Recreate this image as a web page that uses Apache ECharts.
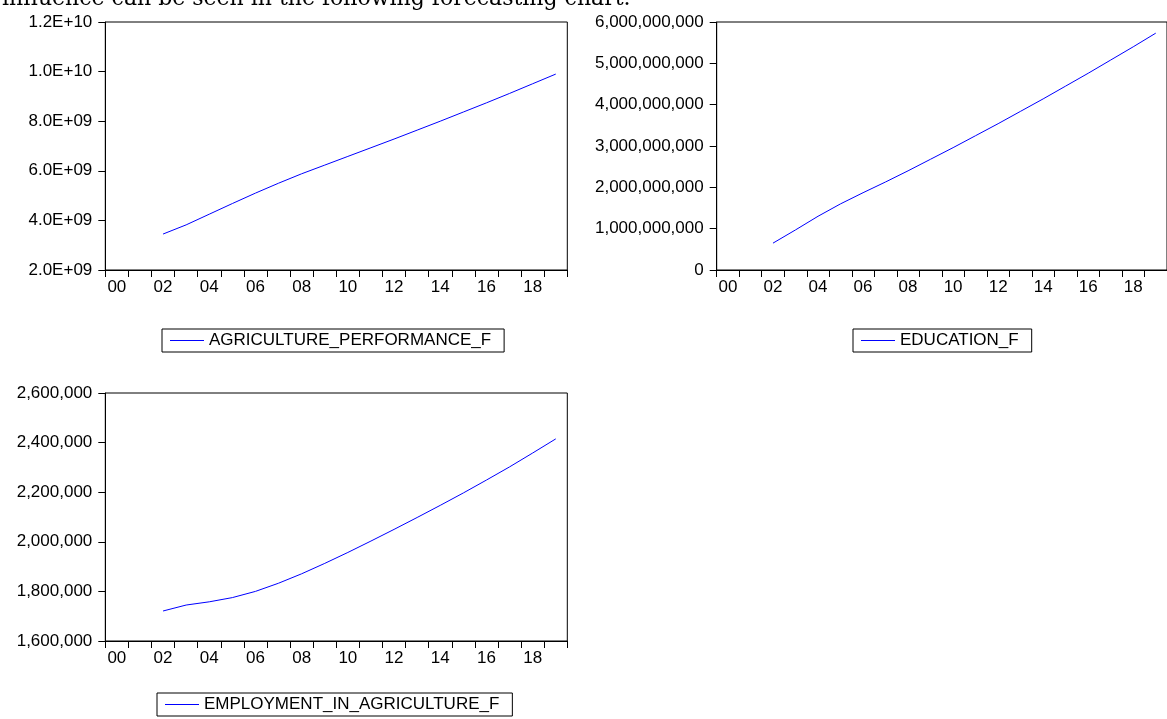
<!DOCTYPE html>
<html>
<head>
<meta charset="utf-8">
<script src="https://cdn.jsdelivr.net/npm/echarts@6/dist/echarts.min.js"></script>
<style>
html,body{margin:0;padding:0;background:#fff;}
#c{width:1167px;height:719px;}
</style>
</head>
<body>
<div id="c"></div>
<script>
// ---- data ----
const years = ['2000','2001','2002','2003','2004','2005','2006','2007','2008','2009','2010','2011','2012','2013','2014','2015','2016','2017','2018','2019'];
const dataStartYear = '2002';
const agriculturePerformance = [3.45e9,3.82e9,4.25e9,4.68e9,5.10e9,5.50e9,5.88e9,6.23e9,6.58e9,6.93e9,7.28e9,7.64e9,8.00e9,8.37e9,8.74e9,9.12e9,9.51e9,9.90e9];
const education = [0.65e9,0.97e9,1.30e9,1.60e9,1.87e9,2.13e9,2.40e9,2.68e9,2.96e9,3.25e9,3.54e9,3.84e9,4.14e9,4.45e9,4.76e9,5.08e9,5.40e9,5.73e9];
const employment = [1721000,1745000,1758000,1775000,1800000,1833000,1871000,1913000,1957000,2003000,2050000,2098000,2147000,2197000,2249000,2302000,2358000,2415000];
const seriesNames = ['AGRICULTURE_PERFORMANCE_F','EDUCATION_F','EMPLOYMENT_IN_AGRICULTURE_F'];
const introText = 'influence can be seen in the following forecasting chart.';

function pad(arr){
  const off = years.indexOf(dataStartYear);
  return years.map((y,i)=> (i>=off && i-off<arr.length) ? arr[i-off] : null);
}
function sciFmt(v){
  let s = Number(v).toExponential(1).toUpperCase();
  return s.replace(/E([+-])(\d)$/, 'E$10$2');
}
function commaFmt(v){ return Number(v).toLocaleString('en-US'); }

const FONT = 'Liberation Sans';
const FS = 17;
const LFS = 17;
const grids = [
  {left:105.3, top:22, width:462, height:248},
  {left:716.7, top:22, width:463, height:248},
  {left:105.3, top:393, width:462, height:248}
];
const yRanges = [
  {min:2e9, max:1.2e10, interval:2e9, fmt:sciFmt},
  {min:0, max:6e9, interval:1e9, fmt:commaFmt},
  {min:1.6e6, max:2.6e6, interval:2e5, fmt:commaFmt}
];
const seriesData = [agriculturePerformance, education, employment];

const chart = echarts.init(document.getElementById('c'), null, {renderer:'canvas'});
const option = {
  animation:false,
  backgroundColor:'#fff',
  grid: grids.map(g=>Object.assign({show:true, borderColor:'#000', borderWidth:1, backgroundColor:'transparent', containLabel:false}, g)),
  xAxis: grids.map((g,i)=>({
    type:'category', gridIndex:i, data:years, boundaryGap:true,
    axisLine:{show:true, lineStyle:{color:'#000', width:1}},
    axisTick:{show:true, interval:0, length:7, inside:false, lineStyle:{color:'#000'}},
    axisLabel:{interval:1, margin:9, color:'#000', fontFamily:FONT, fontSize:FS, formatter:v=>v.slice(2)},
    splitLine:{show:false}
  })),
  yAxis: yRanges.map((r,i)=>({
    type:'value', gridIndex:i, min:r.min, max:r.max, interval:r.interval,
    axisLine:{show:true, lineStyle:{color:'#000'}},
    axisTick:{show:true, length:7, lineStyle:{color:'#000'}},
    axisLabel:{margin:13, color:'#000', fontFamily:FONT, fontSize:FS, formatter:r.fmt, padding:[0,0,8,0]},
    splitLine:{show:false}
  })),
  legend: [
    {left:162, top:329},
    {left:853, top:329},
    {left:157, top:693}
  ].map((p,i)=>({
    left:p.left, top:p.top, data:[seriesNames[i]], orient:'horizontal',
    icon:'rect', itemWidth:34, itemHeight:1.2, itemGap:6,
    borderColor:'#000', borderWidth:1, borderRadius:0, padding:[3,13,3,8],
    backgroundColor:'#fff',
    textStyle:{color:'#000', fontFamily:FONT, fontSize:LFS},
    selectedMode:false
  })),
  series: seriesData.map((d,i)=>({
    name:seriesNames[i], type:'line', xAxisIndex:i, yAxisIndex:i,
    data:pad(d), showSymbol:false, symbol:'none', connectNulls:false,
    lineStyle:{color:'#0000ff', width:1}, itemStyle:{color:'#0000ff'}
  })),
  graphic:[{
    type:'text', left:2, top:-12,
    style:{text:introText, font:'22px "DejaVu Serif"', fill:'#000'}
  }]
};
chart.setOption(option);
</script>
</body>
</html>
